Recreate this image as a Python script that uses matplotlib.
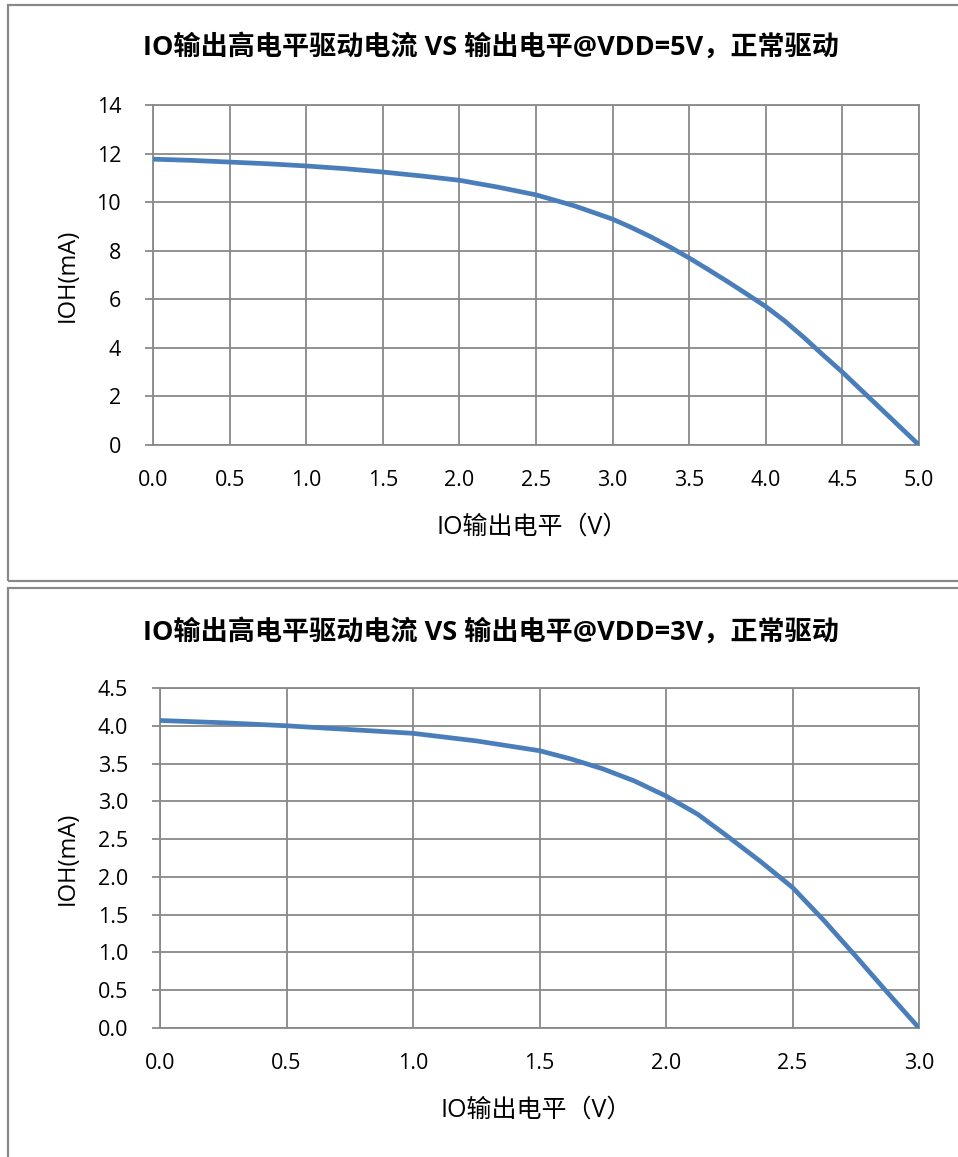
import numpy as np
import matplotlib
matplotlib.use("Agg")
import matplotlib.pyplot as plt
from matplotlib.patches import Rectangle

plt.rcParams['font.family'] = ['Open Sans', 'Noto Sans CJK SC', 'DejaVu Sans']

# VDD = 5V
v5 = [0.0, 0.25, 0.5, 0.75, 1.0, 1.25, 1.5, 1.75, 2.0, 2.25, 2.5, 2.75,
      3.0, 3.125, 3.25, 3.375, 3.5, 3.625, 3.75, 3.875, 4.0, 4.125, 4.25,
      4.375, 4.5, 4.625, 4.75, 4.875, 5.0]
ioh5 = [11.77, 11.72, 11.65, 11.58, 11.49, 11.38, 11.24, 11.08, 10.9, 10.62,
        10.3, 9.85, 9.3, 8.95, 8.57, 8.15, 7.7, 7.22, 6.73, 6.22, 5.7, 5.1,
        4.42, 3.7, 3.0, 2.25, 1.5, 0.75, 0.0]
# VDD = 3V
v3 = [0.0, 0.25, 0.5, 0.75, 1.0, 1.25, 1.5, 1.625, 1.75, 1.875, 2.0, 2.125,
      2.25, 2.375, 2.5, 2.625, 2.75, 2.875, 3.0]
ioh3 = [4.07, 4.04, 4.0, 3.95, 3.9, 3.8, 3.67, 3.56, 3.43, 3.27, 3.07, 2.83,
        2.52, 2.2, 1.86, 1.42, 0.95, 0.47, 0.0]

titles = ["IO输出高电平驱动电流 VS 输出电平@VDD=5V，正常驱动",
          "IO输出高电平驱动电流 VS 输出电平@VDD=3V，正常驱动"]
xlabel = "IO输出电平（V）"
ylabel = "IOH(mA)"

W, H = 958, 1157
fig = plt.figure(figsize=(W / 100, H / 100), dpi=100)

grid_c = "#898989"
line_c = "#4A7EBB"

# panel borders
for y0, y1 in [(5, 581), (588, 1175)]:
    fig.patches.append(Rectangle((8 / W, 1 - y1 / H), 1.0, (y1 - y0) / H,
                                 transform=fig.transFigure, fill=False,
                                 edgecolor=grid_c, lw=1.6))


def panel(rect, x, y, xmax, ymax, ystep, yfmt, title, title_y, ylab_x):
    ax = fig.add_axes(rect)
    ax.plot(x, y, color=line_c, lw=3.4, solid_capstyle='butt', zorder=3)
    ax.set_xlim(0, xmax)
    ax.set_ylim(0, ymax)
    ax.set_xticks(np.arange(0, xmax + 0.01, 0.5))
    ax.set_yticks(np.arange(0, ymax + 0.01, ystep))
    ax.set_xticklabels([f"{t:.1f}" for t in ax.get_xticks()])
    ax.set_yticklabels([yfmt.format(t) for t in ax.get_yticks()])
    ax.grid(True, color=grid_c, lw=1.3)
    for s in ax.spines.values():
        s.set_color(grid_c)
        s.set_linewidth(1.3)
    ax.tick_params(axis='x', length=0, pad=18, labelsize=15.5)
    ax.tick_params(axis='y', length=6, width=1.3, color=grid_c, pad=17, labelsize=15.5)
    ax.set_axisbelow(True)
    ax.set_xlabel(xlabel, fontsize=18)
    ax.xaxis.set_label_coords(0.495, -0.205)
    ax.set_ylabel(ylabel, fontsize=17)
    ax.yaxis.set_label_coords(ylab_x, 0.5)
    fig.text(0.512, 1 - title_y / H, title, fontsize=19.5, fontweight='bold',
             ha='center', va='center')
    return ax


panel([153 / W, 1 - 445 / H, 766 / W, 340 / H], v5, ioh5, 5, 14, 2, "{:.0f}",
      titles[0], 47, -0.0955)
panel([160 / W, 1 - 1028 / H, 759 / W, 340 / H], v3, ioh3, 3, 4.5, 0.5, "{:.1f}",
      titles[1], 632, -0.1055)

fig.savefig("out.png", dpi=100)
